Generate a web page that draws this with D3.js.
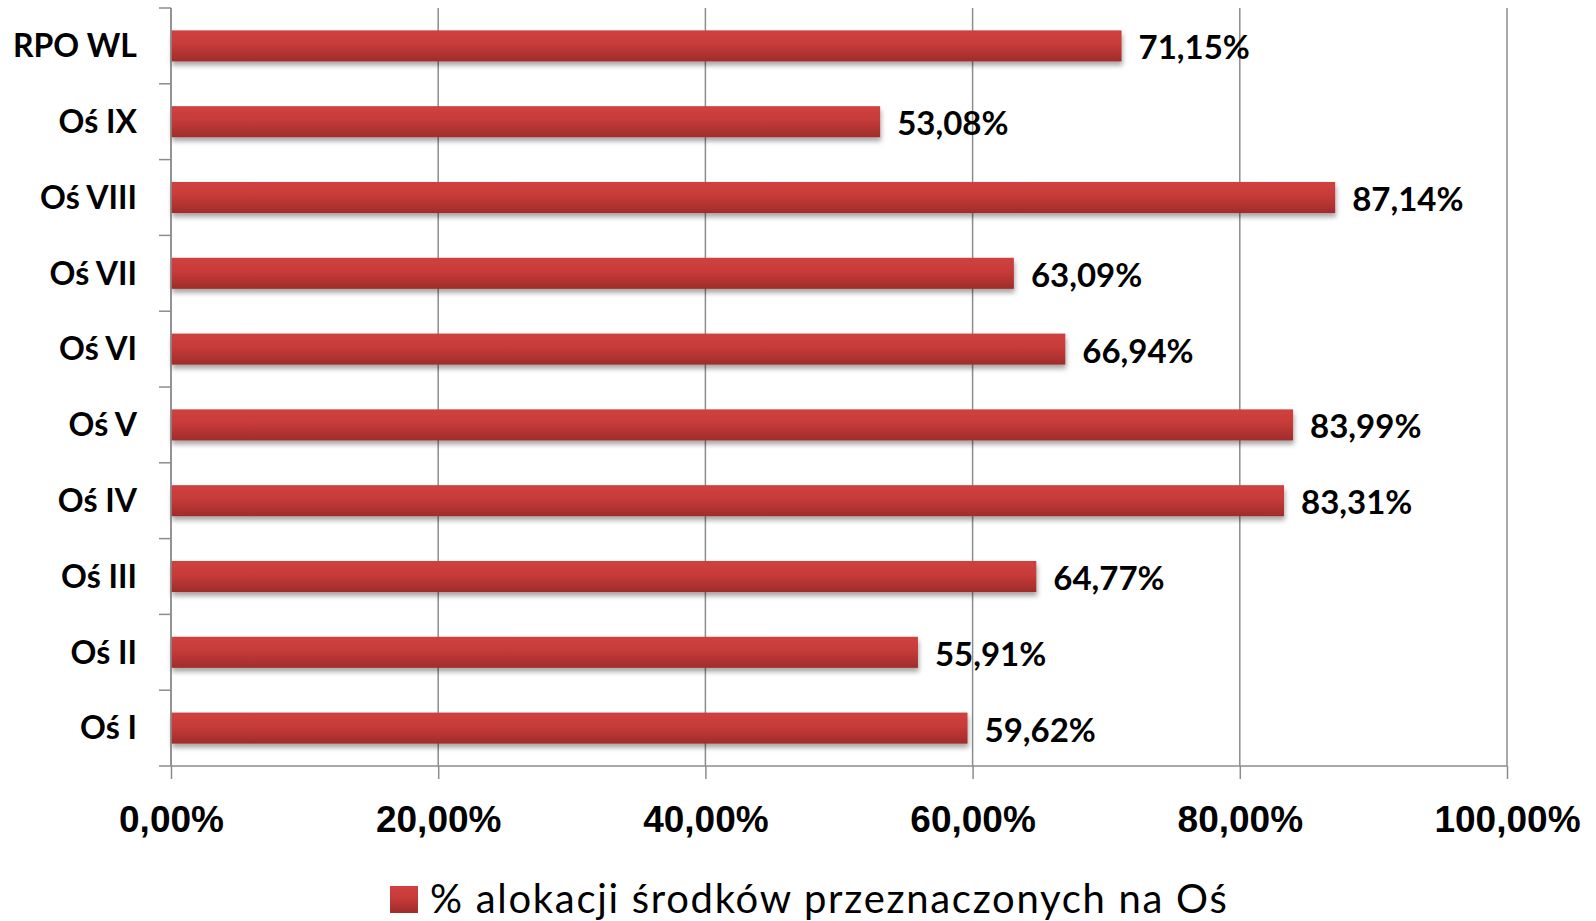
<!DOCTYPE html>
<html>
<head>
<meta charset="utf-8">
<script src="https://cdn.jsdelivr.net/npm/d3@7"></script>
<style>
  body { margin: 0; background: #fff; }
  svg { display: block; font-family: Lato, "Open Sans", sans-serif; }
</style>
</head>
<body>
<svg id="chart" width="1596" height="921"></svg>
<script>
var categories = ["RPO WL", "Oś IX", "Oś VIII", "Oś VII", "Oś VI", "Oś V", "Oś IV", "Oś III", "Oś II", "Oś I"];
var values = [71.15, 53.08, 87.14, 63.09, 66.94, 83.99, 83.31, 64.77, 55.91, 59.62];
var xTicks = [0, 20, 40, 60, 80, 100];
var seriesName = "% alokacji środków przeznaczonych na Oś";

var svg = d3.select("#chart"),
    margin = {top: 8, left: 171, right: 89, bottom: 155},
    width = 1596 - margin.left - margin.right,
    height = 921 - margin.top - margin.bottom;

var x = d3.scaleLinear().domain([0, 100]).range([0, width]);
var y = d3.scaleBand().domain(categories).range([0, height]).paddingInner(0.59).paddingOuter(0.295);

var fmt = function(v) { return v.toFixed(2).replace(".", ",") + "%"; };

var defs = svg.append("defs");
var grad = defs.append("linearGradient").attr("id", "barGrad")
    .attr("x1", 0).attr("y1", 0).attr("x2", 0).attr("y2", 1);
grad.append("stop").attr("offset", "0%").attr("stop-color", "#d0413f");
grad.append("stop").attr("offset", "45%").attr("stop-color", "#c63b39");
grad.append("stop").attr("offset", "100%").attr("stop-color", "#9f2c2b");

var shadow = defs.append("filter").attr("id", "shadow")
    .attr("x", "-5%").attr("y", "-30%").attr("width", "110%").attr("height", "180%");
shadow.append("feGaussianBlur").attr("in", "SourceAlpha").attr("stdDeviation", 2.5);
shadow.append("feOffset").attr("dx", 1).attr("dy", 4).attr("result", "off");
shadow.append("feComponentTransfer").append("feFuncA").attr("type", "linear").attr("slope", 0.35);
var merge = shadow.append("feMerge");
merge.append("feMergeNode");
merge.append("feMergeNode").attr("in", "SourceGraphic");

var g = svg.append("g").attr("transform", "translate(" + margin.left + "," + margin.top + ")");

// vertical grid + x ticks
var xAxis = g.append("g")
    .attr("class", "axis axis--x")
    .attr("transform", "translate(0," + height + ")")
    .call(d3.axisBottom(x).tickValues(xTicks).tickSize(13).tickFormat(fmt));
xAxis.select(".domain").remove();
xAxis.selectAll("line").attr("stroke", "#8c8c8c").attr("stroke-width", 1.5);
xAxis.selectAll("text")
    .attr("y", 66).attr("dy", 0)
    .style("font-size", "37px").style("font-weight", "bold").attr("fill", "#000");

g.selectAll(".grid")
    .data(xTicks)
    .enter().append("line")
      .attr("class", "grid")
      .attr("x1", function(d) { return x(d); })
      .attr("x2", function(d) { return x(d); })
      .attr("y1", 0).attr("y2", height)
      .attr("stroke", "#8c8c8c").attr("stroke-width", 1.5);

// bottom line
g.append("line").attr("x1", 0).attr("x2", width).attr("y1", height).attr("y2", height)
    .attr("stroke", "#8c8c8c").attr("stroke-width", 1.5);

// left axis ticks at band boundaries
var step = y.step();
var bounds = d3.range(categories.length + 1);
g.selectAll(".ytick")
    .data(bounds)
    .enter().append("line")
      .attr("class", "ytick")
      .attr("x1", -12).attr("x2", 0)
      .attr("y1", function(i) { return i * step; })
      .attr("y2", function(i) { return i * step; })
      .attr("stroke", "#8c8c8c").attr("stroke-width", 1.5);

// category labels
g.selectAll(".cat")
    .data(categories)
    .enter().append("text")
      .attr("class", "cat")
      .attr("x", -34)
      .attr("y", function(d) { return y(d) + y.bandwidth() / 2; })
      .attr("dy", "0.35em")
      .attr("text-anchor", "end")
      .style("font-size", "32px").style("font-weight", "bold")
      .text(function(d) { return d; });

// bars
g.selectAll(".bar")
    .data(values)
    .enter().append("rect")
      .attr("class", "bar")
      .attr("x", 0)
      .attr("y", function(d, i) { return y(categories[i]); })
      .attr("width", function(d) { return x(d); })
      .attr("height", y.bandwidth())
      .attr("fill", "url(#barGrad)")
      .attr("filter", "url(#shadow)");

// left axis line on top of bars
g.append("line").attr("x1", 0).attr("x2", 0).attr("y1", 0).attr("y2", height)
    .attr("stroke", "#8c8c8c").attr("stroke-width", 1.5);

// data labels
g.selectAll(".val")
    .data(values)
    .enter().append("text")
      .attr("class", "val")
      .attr("x", function(d) { return x(d) + 17; })
      .attr("y", function(d, i) { return y(categories[i]) + y.bandwidth() / 2 + 2; })
      .attr("dy", "0.35em")
      .style("font-size", "33px").style("font-weight", "bold")
      .text(fmt);

// legend
var legend = svg.append("g").attr("transform", "translate(390,886)");
legend.append("rect").attr("width", 28).attr("height", 27).attr("fill", "url(#barGrad)");
legend.append("text").attr("x", 40).attr("y", 27)
    .style("font-size", "40px").style("letter-spacing", "1.7px")
    .text(seriesName);
</script>
</body>
</html>
